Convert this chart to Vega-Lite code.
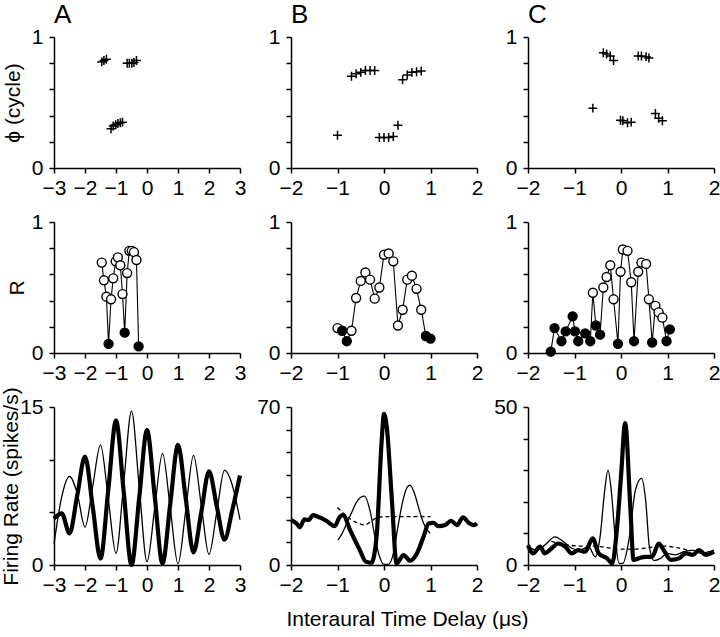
{
"$schema":"https://vega.github.io/schema/vega-lite/v6.json",
"padding":{"left":0,"top":2,"right":0,"bottom":0},
"background":"white",
"config":{
 "view":{"stroke":null},
 "font":"Liberation Sans",
 "axis":{"grid":false,"domainColor":"black","domainWidth":1.5,"tickColor":"black","tickWidth":1.5,"tickSize":5,"labelColor":"black","labelFontSize":21,"labelFont":"Liberation Sans","titleFont":"Liberation Sans","titleFontSize":21,"titleFontWeight":"normal","titleColor":"black","labelPadding":4,"labelFlush":false,"labelOverlap":false},
 "axisY":{"labelPadding":6},
 "title":{"fontSize":26,"fontWeight":"normal","anchor":"start","color":"black","font":"Liberation Sans","offset":-2,"frame":"group"}
},
"columns":3,
"bounds":"flush",
"align":"each",
"spacing":{"row":54,"column":51},
"datasets":{
 "phase":[
  {"p":"A","x":-1.46,"y":0.81},{"p":"A","x":-1.39,"y":0.82},{"p":"A","x":-1.31,"y":0.83},
  {"p":"A","x":-1.16,"y":0.30},{"p":"A","x":-1.09,"y":0.32},{"p":"A","x":-1.01,"y":0.33},{"p":"A","x":-0.94,"y":0.34},{"p":"A","x":-0.86,"y":0.345},{"p":"A","x":-0.79,"y":0.35},
  {"p":"A","x":-0.64,"y":0.80},{"p":"A","x":-0.57,"y":0.80},{"p":"A","x":-0.49,"y":0.80},{"p":"A","x":-0.42,"y":0.805},{"p":"A","x":-0.34,"y":0.82},
  {"p":"B","x":-1.0,"y":0.25},{"p":"B","x":-0.7,"y":0.70},{"p":"B","x":-0.6,"y":0.72},{"p":"B","x":-0.5,"y":0.73},{"p":"B","x":-0.4,"y":0.745},{"p":"B","x":-0.3,"y":0.745},{"p":"B","x":-0.2,"y":0.745},
  {"p":"B","x":-0.1,"y":0.233},{"p":"B","x":0.0,"y":0.233},{"p":"B","x":0.1,"y":0.233},{"p":"B","x":0.2,"y":0.24},{"p":"B","x":0.3,"y":0.327},
  {"p":"B","x":0.4,"y":0.673},{"p":"B","x":0.5,"y":0.71},{"p":"B","x":0.6,"y":0.73},{"p":"B","x":0.7,"y":0.735},{"p":"B","x":0.8,"y":0.74},
  {"p":"C","x":-0.605,"y":0.457},{"p":"C","x":-0.38,"y":0.88},{"p":"C","x":-0.31,"y":0.87},{"p":"C","x":-0.23,"y":0.855},{"p":"C","x":-0.16,"y":0.82},
  {"p":"C","x":-0.01,"y":0.365},{"p":"C","x":0.04,"y":0.36},{"p":"C","x":0.14,"y":0.345},{"p":"C","x":0.22,"y":0.35},
  {"p":"C","x":0.37,"y":0.855},{"p":"C","x":0.44,"y":0.855},{"p":"C","x":0.54,"y":0.85},{"p":"C","x":0.60,"y":0.84},
  {"p":"C","x":0.74,"y":0.416},{"p":"C","x":0.81,"y":0.38},{"p":"C","x":0.89,"y":0.36}
 ],
 "rv":[
  {"p":"A","x":-1.46,"y":0.69,"sig":"open"},{"p":"A","x":-1.39,"y":0.555,"sig":"open"},{"p":"A","x":-1.31,"y":0.43,"sig":"open"},{"p":"A","x":-1.24,"y":0.07,"sig":"filled"},
  {"p":"A","x":-1.16,"y":0.41,"sig":"open"},{"p":"A","x":-1.09,"y":0.57,"sig":"open"},{"p":"A","x":-1.01,"y":0.70,"sig":"open"},{"p":"A","x":-0.94,"y":0.73,"sig":"open"},
  {"p":"A","x":-0.86,"y":0.67,"sig":"open"},{"p":"A","x":-0.79,"y":0.45,"sig":"open"},{"p":"A","x":-0.72,"y":0.155,"sig":"filled"},{"p":"A","x":-0.64,"y":0.61,"sig":"open"},
  {"p":"A","x":-0.57,"y":0.78,"sig":"open"},{"p":"A","x":-0.49,"y":0.78,"sig":"open"},{"p":"A","x":-0.42,"y":0.77,"sig":"open"},{"p":"A","x":-0.34,"y":0.71,"sig":"open"},{"p":"A","x":-0.27,"y":0.05,"sig":"filled"},
  {"p":"B","x":-1.0,"y":0.19,"sig":"open"},{"p":"B","x":-0.9,"y":0.17,"sig":"filled"},{"p":"B","x":-0.8,"y":0.09,"sig":"filled"},{"p":"B","x":-0.7,"y":0.17,"sig":"open"},
  {"p":"B","x":-0.6,"y":0.42,"sig":"open"},{"p":"B","x":-0.5,"y":0.55,"sig":"open"},{"p":"B","x":-0.4,"y":0.615,"sig":"open"},{"p":"B","x":-0.3,"y":0.56,"sig":"open"},
  {"p":"B","x":-0.2,"y":0.415,"sig":"open"},{"p":"B","x":-0.1,"y":0.50,"sig":"open"},{"p":"B","x":0.0,"y":0.75,"sig":"open"},{"p":"B","x":0.1,"y":0.76,"sig":"open"},
  {"p":"B","x":0.2,"y":0.70,"sig":"open"},{"p":"B","x":0.3,"y":0.21,"sig":"open"},{"p":"B","x":0.4,"y":0.33,"sig":"open"},{"p":"B","x":0.5,"y":0.56,"sig":"open"},
  {"p":"B","x":0.6,"y":0.59,"sig":"open"},{"p":"B","x":0.7,"y":0.49,"sig":"open"},{"p":"B","x":0.8,"y":0.33,"sig":"open"},{"p":"B","x":0.9,"y":0.13,"sig":"filled"},{"p":"B","x":1.0,"y":0.11,"sig":"filled"},
  {"p":"C","x":-1.51,"y":0.01,"sig":"filled"},{"p":"C","x":-1.43,"y":0.19,"sig":"filled"},{"p":"C","x":-1.28,"y":0.09,"sig":"filled"},{"p":"C","x":-1.19,"y":0.165,"sig":"filled"},
  {"p":"C","x":-1.04,"y":0.28,"sig":"filled"},{"p":"C","x":-0.99,"y":0.165,"sig":"filled"},{"p":"C","x":-0.92,"y":0.09,"sig":"filled"},{"p":"C","x":-0.77,"y":0.15,"sig":"filled"},
  {"p":"C","x":-0.66,"y":0.09,"sig":"filled"},{"p":"C","x":-0.605,"y":0.46,"sig":"open"},{"p":"C","x":-0.54,"y":0.21,"sig":"filled"},{"p":"C","x":-0.45,"y":0.14,"sig":"filled"},
  {"p":"C","x":-0.38,"y":0.50,"sig":"open"},{"p":"C","x":-0.31,"y":0.58,"sig":"open"},{"p":"C","x":-0.23,"y":0.67,"sig":"open"},{"p":"C","x":-0.16,"y":0.41,"sig":"open"},
  {"p":"C","x":-0.065,"y":0.07,"sig":"filled"},{"p":"C","x":-0.01,"y":0.62,"sig":"open"},{"p":"C","x":0.04,"y":0.79,"sig":"open"},{"p":"C","x":0.14,"y":0.78,"sig":"open"},
  {"p":"C","x":0.22,"y":0.54,"sig":"open"},{"p":"C","x":0.28,"y":0.09,"sig":"filled"},{"p":"C","x":0.37,"y":0.62,"sig":"open"},{"p":"C","x":0.44,"y":0.69,"sig":"open"},
  {"p":"C","x":0.54,"y":0.68,"sig":"open"},{"p":"C","x":0.60,"y":0.41,"sig":"open"},{"p":"C","x":0.67,"y":0.08,"sig":"filled"},{"p":"C","x":0.74,"y":0.36,"sig":"open"},
  {"p":"C","x":0.81,"y":0.31,"sig":"open"},{"p":"C","x":0.89,"y":0.27,"sig":"open"},{"p":"C","x":0.98,"y":0.09,"sig":"filled"},{"p":"C","x":1.05,"y":0.18,"sig":"filled"}
 ],
 "rate":[
  {"p":"A","s":"thick","x":-3,"y":4.4},{"p":"A","s":"thick","x":-2.75,"y":4.9},{"p":"A","s":"thick","x":-2.5,"y":3.0},{"p":"A","s":"thick","x":-2.25,"y":6.6},{"p":"A","s":"thick","x":-2,"y":10.3},
  {"p":"A","s":"thick","x":-1.75,"y":5.5},{"p":"A","s":"thick","x":-1.5,"y":0.6},{"p":"A","s":"thick","x":-1.25,"y":7.1},{"p":"A","s":"thick","x":-1,"y":13.7},{"p":"A","s":"thick","x":-0.75,"y":6.9},
  {"p":"A","s":"thick","x":-0.5,"y":0.0},{"p":"A","s":"thick","x":-0.25,"y":6.4},{"p":"A","s":"thick","x":0,"y":12.8},{"p":"A","s":"thick","x":0.25,"y":6.5},{"p":"A","s":"thick","x":0.5,"y":0.15},
  {"p":"A","s":"thick","x":0.75,"y":5.8},{"p":"A","s":"thick","x":1,"y":11.4},{"p":"A","s":"thick","x":1.25,"y":6.3},{"p":"A","s":"thick","x":1.5,"y":1.2},{"p":"A","s":"thick","x":1.75,"y":5.0},
  {"p":"A","s":"thick","x":2,"y":8.9},{"p":"A","s":"thick","x":2.25,"y":5.6},{"p":"A","s":"thick","x":2.5,"y":2.4},{"p":"A","s":"thick","x":2.75,"y":5.2},{"p":"A","s":"thick","x":3,"y":8.5},
  {"p":"A","s":"thin","x":-3,"y":2.0},{"p":"A","s":"thin","x":-2.75,"y":6.5},{"p":"A","s":"thin","x":-2.5,"y":8.4},{"p":"A","s":"thin","x":-2.25,"y":6.8},{"p":"A","s":"thin","x":-2,"y":3.6},
  {"p":"A","s":"thin","x":-1.75,"y":7.5},{"p":"A","s":"thin","x":-1.5,"y":11.4},{"p":"A","s":"thin","x":-1.25,"y":6.3},{"p":"A","s":"thin","x":-1,"y":1.1},{"p":"A","s":"thin","x":-0.75,"y":7.8},
  {"p":"A","s":"thin","x":-0.5,"y":14.6},{"p":"A","s":"thin","x":-0.25,"y":7.4},{"p":"A","s":"thin","x":0,"y":0.3},{"p":"A","s":"thin","x":0.25,"y":5.4},{"p":"A","s":"thin","x":0.5,"y":10.6},
  {"p":"A","s":"thin","x":0.75,"y":5.4},{"p":"A","s":"thin","x":1,"y":0.1},{"p":"A","s":"thin","x":1.25,"y":5.2},{"p":"A","s":"thin","x":1.5,"y":10.4},{"p":"A","s":"thin","x":1.75,"y":5.7},
  {"p":"A","s":"thin","x":2,"y":1.0},{"p":"A","s":"thin","x":2.25,"y":5.0},{"p":"A","s":"thin","x":2.5,"y":9.0},{"p":"A","s":"thin","x":2.75,"y":7.6},{"p":"A","s":"thin","x":3,"y":4.3},
  {"p":"B","s":"thick","x":-2.0,"y":19.9},{"p":"B","s":"thick","x":-1.88,"y":18.4},{"p":"B","s":"thick","x":-1.81,"y":16.7},{"p":"B","s":"thick","x":-1.71,"y":20.2},{"p":"B","s":"thick","x":-1.62,"y":19.9},
  {"p":"B","s":"thick","x":-1.53,"y":22.1},{"p":"B","s":"thick","x":-1.42,"y":21.4},{"p":"B","s":"thick","x":-1.24,"y":19.6},{"p":"B","s":"thick","x":-1.06,"y":17.2},{"p":"B","s":"thick","x":-0.95,"y":21.4},
  {"p":"B","s":"thick","x":-0.88,"y":22.1},{"p":"B","s":"thick","x":-0.73,"y":15.5},{"p":"B","s":"thick","x":-0.52,"y":6.6},{"p":"B","s":"thick","x":-0.39,"y":1.5},{"p":"B","s":"thick","x":-0.27,"y":1.0},
  {"p":"B","s":"thick","x":-0.16,"y":12.5},{"p":"B","s":"thick","x":-0.05,"y":55},{"p":"B","s":"thick","x":0.0,"y":67},{"p":"B","s":"thick","x":0.06,"y":61},{"p":"B","s":"thick","x":0.17,"y":28.7},
  {"p":"B","s":"thick","x":0.27,"y":0.7},{"p":"B","s":"thick","x":0.42,"y":4.4},{"p":"B","s":"thick","x":0.56,"y":1.9},{"p":"B","s":"thick","x":0.71,"y":5.2},{"p":"B","s":"thick","x":0.85,"y":12.5},
  {"p":"B","s":"thick","x":0.96,"y":18.4},{"p":"B","s":"thick","x":1.06,"y":18.7},{"p":"B","s":"thick","x":1.17,"y":17.2},{"p":"B","s":"thick","x":1.32,"y":17.7},{"p":"B","s":"thick","x":1.44,"y":19.6},
  {"p":"B","s":"thick","x":1.57,"y":17.7},{"p":"B","s":"thick","x":1.70,"y":21.1},{"p":"B","s":"thick","x":1.82,"y":18.7},{"p":"B","s":"thick","x":1.93,"y":17.7},{"p":"B","s":"thick","x":2.0,"y":18.4},
  {"p":"B","s":"thin","x":-0.99,"y":11},{"p":"B","s":"thin","x":-0.9,"y":14},{"p":"B","s":"thin","x":-0.8,"y":18.5},{"p":"B","s":"thin","x":-0.7,"y":23},{"p":"B","s":"thin","x":-0.6,"y":27.5},
  {"p":"B","s":"thin","x":-0.5,"y":30},{"p":"B","s":"thin","x":-0.42,"y":30.5},{"p":"B","s":"thin","x":-0.3,"y":24},{"p":"B","s":"thin","x":-0.2,"y":13},{"p":"B","s":"thin","x":-0.1,"y":4},
  {"p":"B","s":"thin","x":0.0,"y":0.3},{"p":"B","s":"thin","x":0.1,"y":0.3},{"p":"B","s":"thin","x":0.2,"y":5},{"p":"B","s":"thin","x":0.3,"y":17},{"p":"B","s":"thin","x":0.4,"y":28},
  {"p":"B","s":"thin","x":0.5,"y":34.5},{"p":"B","s":"thin","x":0.56,"y":35.4},{"p":"B","s":"thin","x":0.65,"y":32},{"p":"B","s":"thin","x":0.75,"y":25},{"p":"B","s":"thin","x":0.85,"y":18.5},{"p":"B","s":"thin","x":0.99,"y":14},
  {"p":"B","s":"dash","x":-1.0,"y":25.5},{"p":"B","s":"dash","x":-0.85,"y":22.5},{"p":"B","s":"dash","x":-0.7,"y":20},{"p":"B","s":"dash","x":-0.55,"y":18.5},{"p":"B","s":"dash","x":-0.42,"y":17.7},
  {"p":"B","s":"dash","x":-0.3,"y":19},{"p":"B","s":"dash","x":-0.15,"y":21},{"p":"B","s":"dash","x":0.0,"y":21.4},{"p":"B","s":"dash","x":0.25,"y":21.4},{"p":"B","s":"dash","x":0.5,"y":21.4},{"p":"B","s":"dash","x":0.75,"y":21.5},{"p":"B","s":"dash","x":1.0,"y":21.4},
  {"p":"C","s":"thick","x":-2.0,"y":6.3},{"p":"C","s":"thick","x":-1.89,"y":3.7},{"p":"C","s":"thick","x":-1.74,"y":5.8},{"p":"C","s":"thick","x":-1.64,"y":3.7},{"p":"C","s":"thick","x":-1.49,"y":5.3},
  {"p":"C","s":"thick","x":-1.35,"y":6.8},{"p":"C","s":"thick","x":-1.2,"y":5.8},{"p":"C","s":"thick","x":-1.06,"y":3.7},{"p":"C","s":"thick","x":-0.92,"y":4.7},{"p":"C","s":"thick","x":-0.77,"y":4.2},
  {"p":"C","s":"thick","x":-0.61,"y":8.4},{"p":"C","s":"thick","x":-0.48,"y":3.7},{"p":"C","s":"thick","x":-0.30,"y":2.1},{"p":"C","s":"thick","x":-0.19,"y":0.5},{"p":"C","s":"thick","x":-0.09,"y":11},
  {"p":"C","s":"thick","x":0.0,"y":28},{"p":"C","s":"thick","x":0.09,"y":44.9},{"p":"C","s":"thick","x":0.2,"y":18.4},{"p":"C","s":"thick","x":0.27,"y":1.6},{"p":"C","s":"thick","x":0.38,"y":2.1},
  {"p":"C","s":"thick","x":0.53,"y":2.6},{"p":"C","s":"thick","x":0.67,"y":2.6},{"p":"C","s":"thick","x":0.81,"y":6.8},{"p":"C","s":"thick","x":0.92,"y":4.7},{"p":"C","s":"thick","x":1.07,"y":1.6},
  {"p":"C","s":"thick","x":1.25,"y":2.1},{"p":"C","s":"thick","x":1.39,"y":3.7},{"p":"C","s":"thick","x":1.54,"y":3.2},{"p":"C","s":"thick","x":1.68,"y":4.7},{"p":"C","s":"thick","x":1.82,"y":3.2},{"p":"C","s":"thick","x":2.0,"y":4.2},
  {"p":"C","s":"thin","x":-2.0,"y":5.8},{"p":"C","s":"thin","x":-1.82,"y":4.7},{"p":"C","s":"thin","x":-1.64,"y":6.3},{"p":"C","s":"thin","x":-1.42,"y":8.9},{"p":"C","s":"thin","x":-1.24,"y":7.4},
  {"p":"C","s":"thin","x":-1.06,"y":5.3},{"p":"C","s":"thin","x":-0.88,"y":4.7},{"p":"C","s":"thin","x":-0.7,"y":5.8},{"p":"C","s":"thin","x":-0.55,"y":2.6},{"p":"C","s":"thin","x":-0.45,"y":8.9},
  {"p":"C","s":"thin","x":-0.35,"y":23.7},{"p":"C","s":"thin","x":-0.28,"y":30},{"p":"C","s":"thin","x":-0.21,"y":23.7},{"p":"C","s":"thin","x":-0.12,"y":7.9},{"p":"C","s":"thin","x":-0.04,"y":0.5},
  {"p":"C","s":"thin","x":0.04,"y":0.5},{"p":"C","s":"thin","x":0.17,"y":7.9},{"p":"C","s":"thin","x":0.31,"y":23.7},{"p":"C","s":"thin","x":0.44,"y":27.4},{"p":"C","s":"thin","x":0.53,"y":20.5},
  {"p":"C","s":"thin","x":0.61,"y":5.8},{"p":"C","s":"thin","x":0.71,"y":1.4},{"p":"C","s":"thin","x":0.85,"y":2.1},{"p":"C","s":"thin","x":0.99,"y":3.7},{"p":"C","s":"thin","x":1.17,"y":3.2},
  {"p":"C","s":"thin","x":1.35,"y":4.2},{"p":"C","s":"thin","x":1.54,"y":4.7},{"p":"C","s":"thin","x":1.72,"y":3.7},{"p":"C","s":"thin","x":1.9,"y":4.2},{"p":"C","s":"thin","x":2.0,"y":4.7},
  {"p":"C","s":"dash","x":-1.5,"y":7.5},{"p":"C","s":"dash","x":-1.2,"y":6.5},{"p":"C","s":"dash","x":-0.9,"y":6.0},{"p":"C","s":"dash","x":-0.6,"y":6.0},{"p":"C","s":"dash","x":-0.3,"y":5.5},
  {"p":"C","s":"dash","x":0.0,"y":5.0},{"p":"C","s":"dash","x":0.3,"y":5.0},{"p":"C","s":"dash","x":0.6,"y":5.5},{"p":"C","s":"dash","x":0.9,"y":6.0},{"p":"C","s":"dash","x":1.2,"y":5.5},{"p":"C","s":"dash","x":1.5,"y":4.5}
 ]
},
"concat":[
 {"width":186,"height":131,"title":{"text":"A"},
  "data":{"name":"phase"},"transform":[{"filter":"datum.p=='A'"}],
  "mark":{"type":"point","shape":"M-1,0H1M0,-1V1","size":80,"filled":false,"stroke":"black","strokeWidth":1.5,"opacity":1},
  "encoding":{
   "x":{"field":"x","type":"quantitative","scale":{"domain":[-3,3],"nice":false},"axis":{"values":[-3,-2,-1,0,1,2,3],"title":null}},
   "y":{"field":"y","type":"quantitative","scale":{"domain":[0,1],"nice":false},"axis":{"values":[0,0.2,0.4,0.6,0.8,1],"labelExpr":"datum.value==0?'0':datum.value==1?'1':''","title":"ϕ (cycle)","titlePadding":8}}}},
 {"width":186,"height":131,"title":{"text":"B"},
  "data":{"name":"phase"},"transform":[{"filter":"datum.p=='B'"}],
  "mark":{"type":"point","shape":"M-1,0H1M0,-1V1","size":80,"filled":false,"stroke":"black","strokeWidth":1.5,"opacity":1},
  "encoding":{
   "x":{"field":"x","type":"quantitative","scale":{"domain":[-2,2],"nice":false},"axis":{"values":[-2,-1,0,1,2],"title":null}},
   "y":{"field":"y","type":"quantitative","scale":{"domain":[0,1],"nice":false},"axis":{"values":[0,0.2,0.4,0.6,0.8,1],"labelExpr":"datum.value==0?'0':datum.value==1?'1':''","title":null}}}},
 {"width":186,"height":131,"title":{"text":"C"},
  "data":{"name":"phase"},"transform":[{"filter":"datum.p=='C'"}],
  "mark":{"type":"point","shape":"M-1,0H1M0,-1V1","size":80,"filled":false,"stroke":"black","strokeWidth":1.5,"opacity":1},
  "encoding":{
   "x":{"field":"x","type":"quantitative","scale":{"domain":[-2,2],"nice":false},"axis":{"values":[-2,-1,0,1,2],"title":null}},
   "y":{"field":"y","type":"quantitative","scale":{"domain":[0,1],"nice":false},"axis":{"values":[0,0.2,0.4,0.6,0.8,1],"labelExpr":"datum.value==0?'0':datum.value==1?'1':''","title":null}}}},
 {"width":186,"height":131,
  "data":{"name":"rv"},"transform":[{"filter":"datum.p=='A'"}],
  "encoding":{
   "x":{"field":"x","type":"quantitative","scale":{"domain":[-3,3],"nice":false},"axis":{"values":[-3,-2,-1,0,1,2,3],"title":null}},
   "y":{"field":"y","type":"quantitative","scale":{"domain":[0,1],"nice":false},"axis":{"values":[0,0.2,0.4,0.6,0.8,1],"labelExpr":"datum.value==0?'0':datum.value==1?'1':''","title":"R","titlePadding":4}}},
  "layer":[
   {"mark":{"type":"line","color":"black","strokeWidth":1.1}},
   {"mark":{"type":"point","shape":"circle","size":80,"stroke":"black","strokeWidth":1.4,"opacity":1,"filled":true},
    "encoding":{"fill":{"field":"sig","type":"nominal","scale":{"domain":["open","filled"],"range":["white","black"]},"legend":null}}}
  ]},
 {"width":186,"height":131,
  "data":{"name":"rv"},"transform":[{"filter":"datum.p=='B'"}],
  "encoding":{
   "x":{"field":"x","type":"quantitative","scale":{"domain":[-2,2],"nice":false},"axis":{"values":[-2,-1,0,1,2],"title":null}},
   "y":{"field":"y","type":"quantitative","scale":{"domain":[0,1],"nice":false},"axis":{"values":[0,0.2,0.4,0.6,0.8,1],"labelExpr":"datum.value==0?'0':datum.value==1?'1':''","title":null}}},
  "layer":[
   {"mark":{"type":"line","color":"black","strokeWidth":1.1}},
   {"mark":{"type":"point","shape":"circle","size":80,"stroke":"black","strokeWidth":1.4,"opacity":1,"filled":true},
    "encoding":{"fill":{"field":"sig","type":"nominal","scale":{"domain":["open","filled"],"range":["white","black"]},"legend":null}}}
  ]},
 {"width":186,"height":131,
  "data":{"name":"rv"},"transform":[{"filter":"datum.p=='C'"}],
  "encoding":{
   "x":{"field":"x","type":"quantitative","scale":{"domain":[-2,2],"nice":false},"axis":{"values":[-2,-1,0,1,2],"title":null}},
   "y":{"field":"y","type":"quantitative","scale":{"domain":[0,1],"nice":false},"axis":{"values":[0,0.2,0.4,0.6,0.8,1],"labelExpr":"datum.value==0?'0':datum.value==1?'1':''","title":null}}},
  "layer":[
   {"mark":{"type":"line","color":"black","strokeWidth":1.1}},
   {"mark":{"type":"point","shape":"circle","size":80,"stroke":"black","strokeWidth":1.4,"opacity":1,"filled":true},
    "encoding":{"fill":{"field":"sig","type":"nominal","scale":{"domain":["open","filled"],"range":["white","black"]},"legend":null}}}
  ]},
 {"width":186,"height":158,
  "data":{"name":"rate"},"transform":[{"filter":"datum.p=='A'"}],
  "encoding":{
   "x":{"field":"x","type":"quantitative","scale":{"domain":[-3,3],"nice":false},"axis":{"values":[-3,-2,-1,0,1,2,3],"title":null}},
   "y":{"field":"y","type":"quantitative","scale":{"domain":[0,15],"nice":false},"axis":{"values":[0,5,10,15],"labelExpr":"datum.value==0?'0':datum.value==15?'15':''","title":"Firing Rate (spikes/s)","titlePadding":-2}}},
  "layer":[
   {"transform":[{"filter":"datum.s=='thin'"}],"mark":{"type":"line","color":"black","strokeWidth":1.3,"interpolate":"monotone"}},
   {"transform":[{"filter":"datum.s=='thick'"}],"mark":{"type":"line","color":"black","strokeWidth":4.2,"interpolate":"monotone"}}
  ]},
 {"width":186,"height":158,
  "data":{"name":"rate"},"transform":[{"filter":"datum.p=='B'"}],
  "encoding":{
   "x":{"field":"x","type":"quantitative","scale":{"domain":[-2,2],"nice":false},"axis":{"values":[-2,-1,0,1,2],"title":"Interaural Time Delay (μs)","titleAnchor":"start","titleAlign":"left","titleX":-5,"titlePadding":13}},
   "y":{"field":"y","type":"quantitative","scale":{"domain":[0,70],"nice":false},"axis":{"values":[0,10,20,30,40,50,60,70],"labelExpr":"datum.value==0?'0':datum.value==70?'70':''","title":null}}},
  "layer":[
   {"transform":[{"filter":"datum.s=='dash'"}],"mark":{"type":"line","color":"black","strokeWidth":1.3,"strokeDash":[4,3],"interpolate":"monotone"}},
   {"transform":[{"filter":"datum.s=='thin'"}],"mark":{"type":"line","color":"black","strokeWidth":1.3,"interpolate":"monotone"}},
   {"transform":[{"filter":"datum.s=='thick'"}],"mark":{"type":"line","color":"black","strokeWidth":4.2,"interpolate":"monotone"}}
  ]},
 {"width":186,"height":158,
  "data":{"name":"rate"},"transform":[{"filter":"datum.p=='C'"}],
  "encoding":{
   "x":{"field":"x","type":"quantitative","scale":{"domain":[-2,2],"nice":false},"axis":{"values":[-2,-1,0,1,2],"title":null}},
   "y":{"field":"y","type":"quantitative","scale":{"domain":[0,50],"nice":false},"axis":{"values":[0,10,20,30,40,50],"labelExpr":"datum.value==0?'0':datum.value==50?'50':''","title":null}}},
  "layer":[
   {"transform":[{"filter":"datum.s=='dash'"}],"mark":{"type":"line","color":"black","strokeWidth":1.3,"strokeDash":[4,3],"interpolate":"monotone"}},
   {"transform":[{"filter":"datum.s=='thin'"}],"mark":{"type":"line","color":"black","strokeWidth":1.3,"interpolate":"monotone"}},
   {"transform":[{"filter":"datum.s=='thick'"}],"mark":{"type":"line","color":"black","strokeWidth":4.2,"interpolate":"monotone"}}
  ]}
]
}
